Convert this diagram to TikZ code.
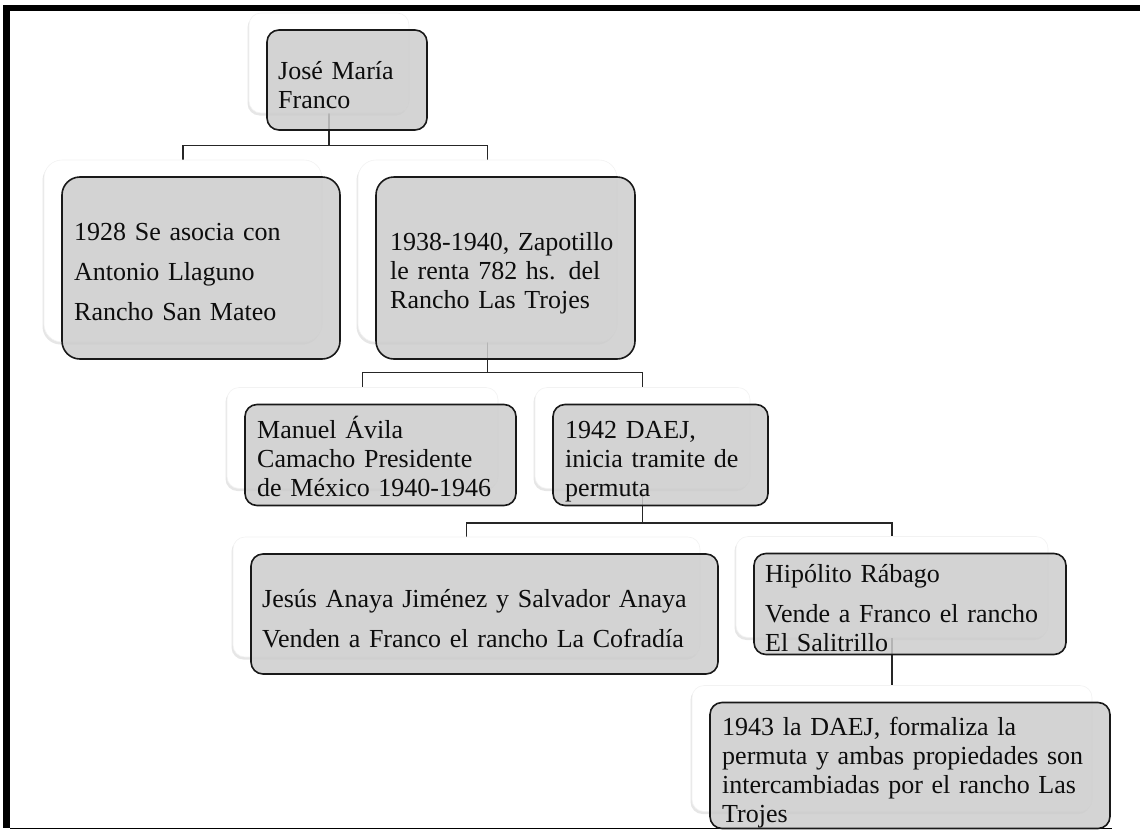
\documentclass[tikz,border=0pt]{standalone}
\usepackage{fontspec}
\setmainfont{Liberation Serif}
\usepackage{tikz}
\usetikzlibrary{positioning,shadows,backgrounds}

\begin{document}
\begin{tikzpicture}[x=1pt,y=-1pt,
    ghost/.style={draw=black!5, fill=white, rounded corners=12pt, line width=0.6pt,
        drop shadow={opacity=0.2, shadow xshift=-1.5pt, shadow yshift=-2.5pt}},
    card/.style={draw=black!90, fill=black!20, fill opacity=0.85, rounded corners=12pt, line width=1.6pt},
    cardtext/.style={anchor=base west, inner sep=0pt, text width=600pt, align=left, text=black!95,
        font=\fontsize{26}{29}\selectfont},
    conn/.style={draw=black!85, line width=1.6pt}]
    \useasboundingbox (0,0) rectangle (1140,830);

    % frame
    \fill (3,5) rectangle (1140,11);
    \fill (3,5) rectangle (10,828);
    \draw[line width=1pt] (10,828) -- (1112,828);

    % white boxes behind
    \node[ghost, minimum width=160, minimum height=100] (franco) at (329,63) {};
    \node[ghost, minimum width=278, minimum height=182, rounded corners=18pt] (llaguno) at (183,251) {};
    \node[ghost, minimum width=259, minimum height=182, rounded corners=18pt] (zapotillo) at (487.5,251) {};
    \node[ghost, minimum width=271, minimum height=101] (avila) at (362.5,438) {};
    \node[ghost, minimum width=215, minimum height=101] (daej) at (642.5,438) {};
    \node[ghost, minimum width=467, minimum height=120] (cofradia) at (466.5,597) {};
    \node[ghost, minimum width=312, minimum height=101] (salitrillo) at (892,587) {};
    \node[ghost, minimum width=400, minimum height=126] (permuta) at (892,748.5) {};

    \begin{pgfonlayer}{background}
        \draw[conn] (franco.south) -- ++(0,32) -| (llaguno.north);
        \draw[conn] (franco.south) -- ++(0,32) -| (zapotillo.north);
        \draw[conn] (zapotillo.south) -- ++(0,30) -| (avila.north);
        \draw[conn] (zapotillo.south) -- ++(0,30) -| (daej.north);
        \draw[conn] (daej.south) -- ++(0,34) -| (cofradia.north);
        \draw[conn] (daej.south) -- ++(0,34) -| (salitrillo.north);
        \draw[conn] (salitrillo.south) -- (permuta.north);
    \end{pgfonlayer}

    % gray boxes
    \node[card, minimum width=160, minimum height=100] (francoC) at ([shift={(18,17)}]franco.center) {};
    \node[card, minimum width=278, minimum height=182, rounded corners=18pt] (llagunoC) at ([shift={(18,17)}]llaguno.center) {};
    \node[card, minimum width=259, minimum height=182, rounded corners=18pt] (zapotilloC) at ([shift={(18,17)}]zapotillo.center) {};
    \node[card, minimum width=271, minimum height=101] (avilaC) at ([shift={(18,17)}]avila.center) {};
    \node[card, minimum width=215, minimum height=101] (daejC) at ([shift={(18,17)}]daej.center) {};
    \node[card, minimum width=467, minimum height=120] (cofradiaC) at ([shift={(18,17)}]cofradia.center) {};
    \node[card, minimum width=312, minimum height=101] (salitrilloC) at ([shift={(18,17)}]salitrillo.center) {};
    \node[card, minimum width=400, minimum height=126] (permutaC) at ([shift={(18,17)}]permuta.center) {};

    % texts
    \node[cardtext] (francoT) at (278,79) {José María\\Franco};
    \node[cardtext] (llagunoT) at (74,240) {1928 Se asocia con\\[11pt]Antonio Llaguno\\[11pt]Rancho San Mateo};
    \node[cardtext] (zapotilloT) at (390,250) {1938-1940, Zapotillo\\le renta 782 hs. del\\Rancho Las Trojes};
    \node[cardtext] (avilaT) at (257,438) {Manuel Ávila\\Camacho Presidente\\de México 1940-1946};
    \node[cardtext] (daejT) at (565,438) {1942 DAEJ,\\inicia tramite de\\permuta};
    \node[cardtext] (cofradiaT) at (262,607) {Jesús Anaya Jiménez y Salvador Anaya\\[11pt]Venden a Franco el rancho La Cofradía};
    \node[cardtext] (salitrilloT) at (765,582) {Hipólito Rábago\\[11pt]Vende a Franco el rancho\\El Salitrillo};
    \node[cardtext] (permutaT) at (722,735) {1943 la DAEJ, formaliza la\\permuta y ambas propiedades son\\intercambiadas por el rancho Las\\Trojes};
\end{tikzpicture}
\end{document}
